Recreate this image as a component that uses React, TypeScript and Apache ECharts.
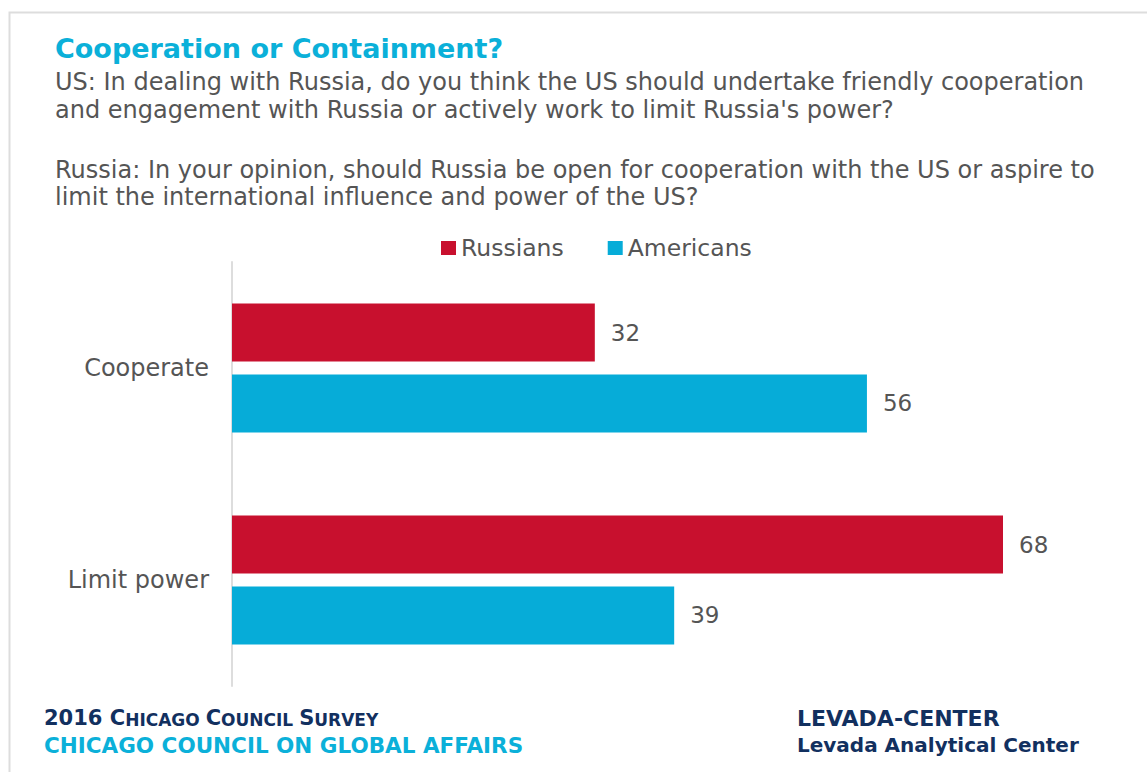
import React, { useEffect, useRef } from "react";
import * as echarts from "echarts";

const categories = ["Cooperate", "Limit power"];
const russians = [32, 68];
const americans = [56, 39];
const seriesNames = ["Russians", "Americans"];

const titleText = "Cooperation or Containment?";
const subtitleLines = [
  "US: In dealing with Russia, do you think the US should undertake friendly cooperation",
  "and engagement with Russia or actively work to limit Russia's power?",
  "Russia: In your opinion, should Russia be open for cooperation with the US or aspire to",
  "limit the international influence and power of the US?",
];

const FONT = "'DejaVu Sans', 'Open Sans', sans-serif";
const RED = "#c8102e";
const BLUE = "#06acd8";
const GRAY = "#555555";
const NAVY = "#12305f";
const CYAN = "#0bb0d9";

export default function App() {
  const ref = useRef<HTMLDivElement>(null);
  useEffect(() => {
    document.body.style.margin = "0";
    const chart = echarts.init(ref.current!, undefined, { renderer: "svg" });
    const subY = [82, 110, 170, 197];
    chart.setOption({
      animation: false,
      backgroundColor: "#ffffff",
      textStyle: { fontFamily: FONT },
      legend: {
        data: seriesNames,
        left: 436,
        top: 231,
        icon: "rect",
        itemWidth: 15,
        itemHeight: 14,
        itemGap: 44,
        textStyle: { fontSize: 23.5, color: GRAY, fontFamily: FONT },
      },
      grid: { left: 232, top: 262, width: 771, height: 424, containLabel: false },
      xAxis: {
        type: "value",
        min: 0,
        max: 68,
        show: false,
      },
      yAxis: {
        type: "category",
        data: categories,
        inverse: true,
        axisLine: { show: true, lineStyle: { color: "#dddddd", width: 2 } },
        axisTick: { show: false },
        axisLabel: { margin: 23, fontSize: 24, color: GRAY, fontFamily: FONT },
      },
      series: [
        {
          name: seriesNames[0],
          type: "bar",
          data: russians,
          barWidth: 58,
          barGap: "22%",
          itemStyle: { color: RED },
          label: { show: true, position: "right", distance: 16, fontSize: 23, color: GRAY, fontFamily: FONT },
        },
        {
          name: seriesNames[1],
          type: "bar",
          data: americans,
          barWidth: 58,
          barGap: "22%",
          itemStyle: { color: BLUE },
          label: { show: true, position: "right", distance: 16, fontSize: 23, color: GRAY, fontFamily: FONT },
        },
      ],
      graphic: [
        {
          type: "polyline",
          shape: { points: [[9.5, 772], [9.5, 12.5], [1147, 12.5]] },
          style: { stroke: "#dddddd", lineWidth: 2, fill: "none" },
          silent: true,
        },
        {
          type: "text",
          x: 55,
          y: 48,
          style: { text: titleText, font: `bold 27px ${FONT}`, fill: CYAN, verticalAlign: "middle" },
        },
        ...subtitleLines.map((t, i) => ({
          type: "text",
          x: 55,
          y: subY[i],
          style: { text: t, font: `24px ${FONT}`, lineHeight: 26, fill: GRAY, verticalAlign: "middle" },
        })),
        {
          type: "text",
          x: 44,
          y: 718,
          style: {
            text: "{a|2016 C}{b|HICAGO }{a|C}{b|OUNCIL }{a|S}{b|URVEY}",
            verticalAlign: "middle",
            rich: {
              a: { fontFamily: FONT, fontWeight: "bold", fontSize: 21, fill: NAVY, color: NAVY },
              b: { fontFamily: FONT, fontWeight: "bold", fontSize: 17, fill: NAVY, color: NAVY, verticalAlign: "bottom" },
            },
          },
        },
        {
          type: "text",
          x: 44,
          y: 745,
          style: { text: "CHICAGO COUNCIL ON GLOBAL AFFAIRS", font: `bold 21.5px ${FONT}`, fill: CYAN, verticalAlign: "middle" },
        },
        {
          type: "text",
          x: 797,
          y: 718,
          style: { text: "LEVADA-CENTER", font: `bold 22px ${FONT}`, fill: NAVY, verticalAlign: "middle" },
        },
        {
          type: "text",
          x: 797,
          y: 745,
          style: { text: "Levada Analytical Center", font: `bold 20px ${FONT}`, fill: NAVY, verticalAlign: "middle" },
        },
      ],
    });
    return () => chart.dispose();
  }, []);
  return <div ref={ref} style={{ width: 1147, height: 772 }} />;
}
